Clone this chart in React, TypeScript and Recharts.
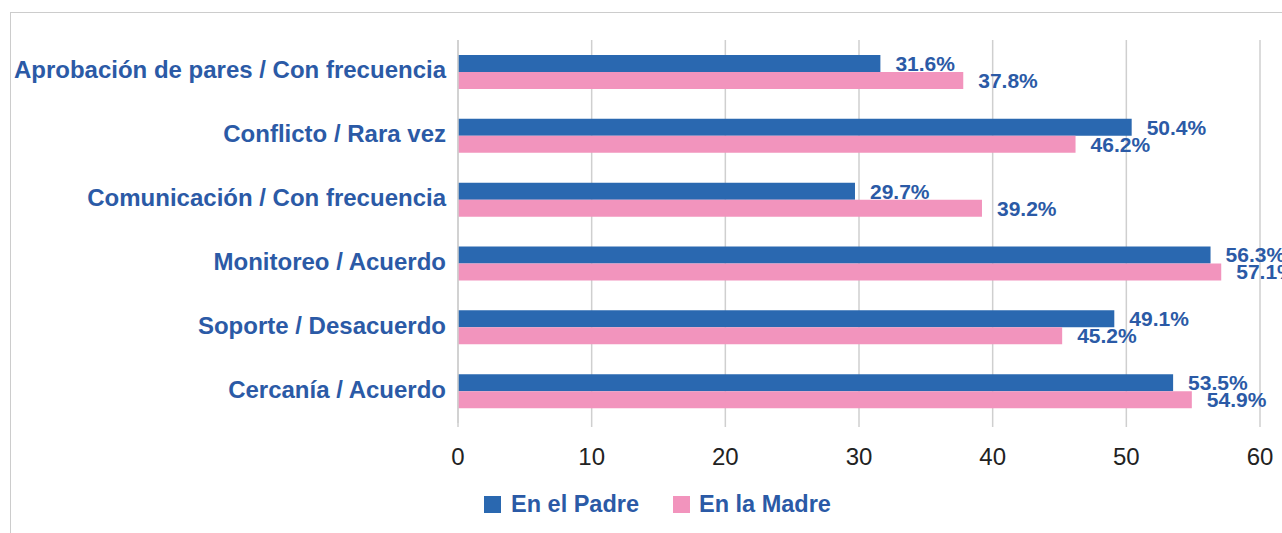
import { BarChart, Bar, XAxis, YAxis, CartesianGrid, Legend, LabelList } from 'recharts'

const categories = [
  'Aprobación de pares / Con frecuencia',
  'Conflicto / Rara vez',
  'Comunicación / Con frecuencia',
  'Monitoreo / Acuerdo',
  'Soporte / Desacuerdo',
  'Cercanía / Acuerdo',
]
const padre = [31.6, 50.4, 29.7, 56.3, 49.1, 53.5]
const madre = [37.8, 46.2, 39.2, 57.1, 45.2, 54.9]
const xTicks = [0, 10, 20, 30, 40, 50, 60]

const BLUE = '#2a68b0'
const PINK = '#f294bd'
const TEXT_BLUE = '#2b5aa6'
const GRID = '#cfcfcf'
const FONT = 'Liberation Sans, Arial, sans-serif'

const data = categories.map((name, i) => ({ name, padre: padre[i], madre: madre[i] }))

const LegendContent = () => (
  <div style={{ display: 'flex', alignItems: 'center', fontFamily: FONT, fontWeight: 700, fontSize: 23.5, color: TEXT_BLUE }}>
    <span style={{ width: 17, height: 17, background: BLUE, display: 'inline-block', marginRight: 10 }} />
    <span>En el Padre</span>
    <span style={{ width: 17, height: 17, background: PINK, display: 'inline-block', marginLeft: 34, marginRight: 9 }} />
    <span>En la Madre</span>
  </div>
)

export default function App() {
  return (
    <div style={{ position: 'absolute', left: 0, top: 0, width: 1282, height: 533, overflow: 'hidden', background: '#fff' }}>
      <div style={{ position: 'absolute', left: 10, top: 12, width: 1400, height: 700, border: '1px solid #cccccc' }} />
      <BarChart
        width={1282}
        height={533}
        data={data}
        layout="vertical"
        barSize={17}
        barGap={0}
        margin={{ top: 40, right: 22, bottom: 20, left: 0 }}
      >
        <CartesianGrid vertical horizontal={false} stroke={GRID} strokeWidth={1.5} />
        <XAxis
          type="number"
          domain={[0, 60]}
          ticks={xTicks}
          axisLine={false}
          tickLine={{ stroke: GRID, strokeWidth: 1.5 }}
          tickSize={4}
          tickMargin={21}
          height={60}
          tick={{ fontSize: 24, fill: '#222', fontFamily: FONT }}
        />
        <YAxis
          type="category"
          dataKey="name"
          width={458}
          axisLine={{ stroke: GRID, strokeWidth: 1.5 }}
          tickLine={false}
          tickSize={0}
          tickMargin={12}
          tick={{ fontSize: 24, fontWeight: 700, fill: TEXT_BLUE, fontFamily: FONT, dy: -2 }}
        />
        <Legend
          verticalAlign="bottom"
          content={<LegendContent />}
          wrapperStyle={{ left: 484, top: 491, width: 'auto', height: 30 }}
        />
        <Bar dataKey="padre" name="En el Padre" fill={BLUE} isAnimationActive={false}>
          <LabelList
            dataKey="padre"
            position="right"
            offset={15}
            formatter={(v: any) => `${v}%`}
            style={{ fontSize: 21, fontWeight: 700, fill: TEXT_BLUE, fontFamily: FONT }}
          />
        </Bar>
        <Bar dataKey="madre" name="En la Madre" fill={PINK} isAnimationActive={false}>
          <LabelList
            dataKey="madre"
            position="right"
            offset={15}
            formatter={(v: any) => `${v}%`}
            style={{ fontSize: 21, fontWeight: 700, fill: TEXT_BLUE, fontFamily: FONT }}
          />
        </Bar>
      </BarChart>
    </div>
  )
}
